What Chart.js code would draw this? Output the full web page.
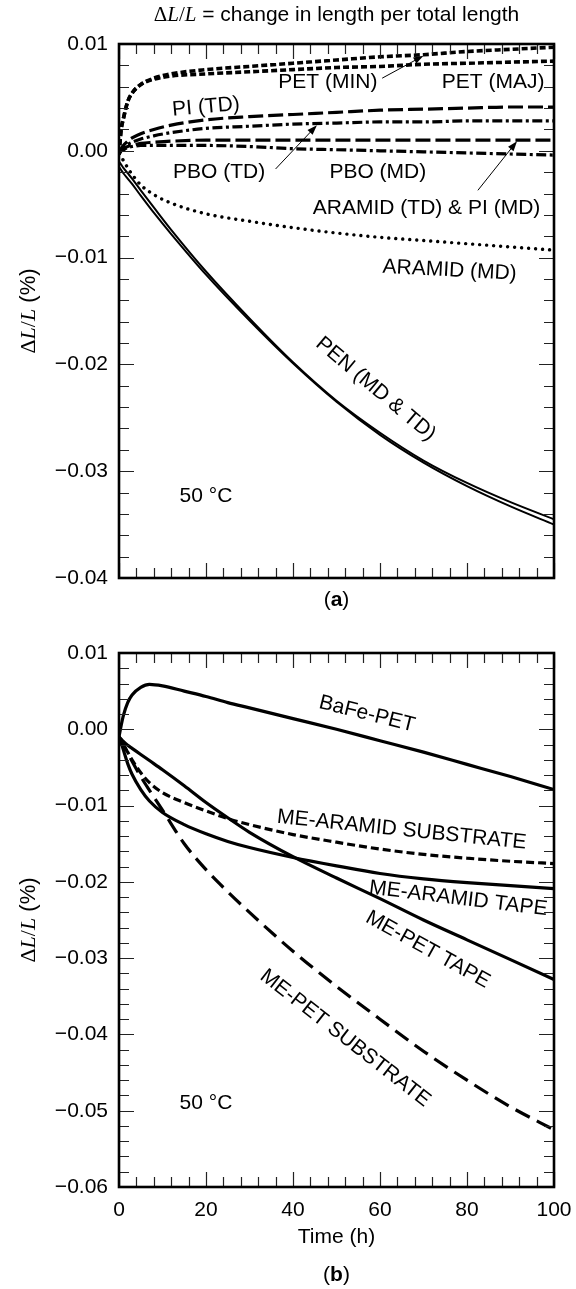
<!DOCTYPE html>
<html>
<head>
<meta charset="utf-8">
<script src="https://cdn.jsdelivr.net/npm/chart.js@4/dist/chart.umd.min.js"></script>
<style>
  html, body { margin: 0; padding: 0; background: #fff; }
  .panel { position: relative; width: 576px; }
</style>
</head>
<body>
<div class="panel" style="height:620px"><canvas id="chart-a"></canvas></div>
<div class="panel" style="height:669px"><canvas id="chart-b"></canvas></div>
<script>
// (a) base films, dL/L (%) vs time (h) at 50 °C
const timeA    = [0, 0.5, 1, 2, 3, 5, 8, 12, 20, 30, 40, 50, 60, 70, 80, 90, 100];
const petMin   = [-0.0003, 0.0020, 0.0030, 0.0046, 0.0054, 0.0062, 0.0068, 0.0072, 0.0076, 0.0079, 0.0082, 0.0085, 0.0088, 0.0090, 0.0093, 0.0095, 0.0097];
const petMaj   = [-0.0003, 0.0020, 0.0030, 0.0046, 0.0054, 0.0062, 0.0067, 0.0070, 0.0072, 0.0074, 0.0076, 0.0078, 0.0079, 0.0081, 0.0082, 0.0083, 0.0084];
const piTD     = [-0.0003, 0.0002, 0.0005, 0.0009, 0.0012, 0.0016, 0.0020, 0.0024, 0.0029, 0.0032, 0.0034, 0.0036, 0.0038, 0.0039, 0.0040, 0.0041, 0.0041];
const pboTD    = [-0.0003, 0.0001, 0.0003, 0.0006, 0.0008, 0.0011, 0.0014, 0.0017, 0.0021, 0.0023, 0.0025, 0.0026, 0.0027, 0.0027, 0.0028, 0.0028, 0.0028];
const aramidTD = [-0.0003, 0.0000, 0.0002, 0.0004, 0.0005, 0.0007, 0.0008, 0.0009, 0.0010, 0.0010, 0.0010, 0.0010, 0.0010, 0.0010, 0.0010, 0.0010, 0.0010];
const pboMD    = [-0.0003, 0.0000, 0.0001, 0.0003, 0.0004, 0.0005, 0.0005, 0.0005, 0.0005, 0.0004, 0.0002, 0.0001, 0.0000, -0.0001, -0.0002, -0.0003, -0.0004];
const aramidMD = [-0.0003, -0.0006, -0.0009, -0.0016, -0.0022, -0.0032, -0.0041, -0.0049, -0.0059, -0.0066, -0.0072, -0.0077, -0.0081, -0.0084, -0.0087, -0.0090, -0.0093];
const penMD    = [-0.0010, -0.0013, -0.0016, -0.0021, -0.0026, -0.0037, -0.0053, -0.0074, -0.0113, -0.0157, -0.0198, -0.0234, -0.0264, -0.0290, -0.0311, -0.0329, -0.0345];
const penTD    = [-0.0015, -0.0018, -0.0021, -0.0026, -0.0031, -0.0042, -0.0058, -0.0078, -0.0116, -0.0159, -0.0199, -0.0235, -0.0266, -0.0292, -0.0314, -0.0333, -0.0350];

// (b) ME / BaFe tapes and substrates
const timeB     = [0, 0.5, 1, 2, 3, 5, 7, 10, 15, 20, 25, 30, 40, 50, 60, 70, 80, 90, 100];
const bafePet   = [-0.0010, 0.0005, 0.0018, 0.0035, 0.0045, 0.0055, 0.0059, 0.0057, 0.0050, 0.0043, 0.0035, 0.0028, 0.0014, 0.0000, -0.0015, -0.0030, -0.0046, -0.0062, -0.0079];
const meAraSub  = [-0.0010, -0.0015, -0.0020, -0.0030, -0.0040, -0.0057, -0.0070, -0.0083, -0.0096, -0.0107, -0.0117, -0.0125, -0.0138, -0.0148, -0.0157, -0.0164, -0.0169, -0.0173, -0.0176];
const meAraTape = [-0.0010, -0.0018, -0.0027, -0.0045, -0.0059, -0.0079, -0.0094, -0.0109, -0.0125, -0.0137, -0.0147, -0.0155, -0.0168, -0.0179, -0.0189, -0.0196, -0.0201, -0.0205, -0.0209];
const mePetTape = [-0.0010, -0.0013, -0.0016, -0.0021, -0.0025, -0.0033, -0.0041, -0.0053, -0.0074, -0.0096, -0.0116, -0.0135, -0.0167, -0.0195, -0.0222, -0.0250, -0.0276, -0.0302, -0.0328];
const mePetSub  = [-0.0010, -0.0015, -0.0020, -0.0031, -0.0042, -0.0062, -0.0080, -0.0106, -0.0150, -0.0184, -0.0213, -0.0240, -0.0291, -0.0337, -0.0380, -0.0422, -0.0460, -0.0495, -0.0525];

const xTicks = [0, 20, 40, 60, 80, 100];

// curve labels: [text, t, value, rotation in degrees]
const notesA = [
    ['PET (MIN)', 48, 0.0064, 0],
    ['PET (MAJ)', 86, 0.0064, 0],
    ['PI (TD)', 20, 0.0041, -5],
    ['PBO (TD)', 23, -0.0020, 0],
    ['PBO (MD)', 59.5, -0.0020, 0],
    ['ARAMID (TD) & PI (MD)', 70.7, -0.0054, 0],
    ['ARAMID (MD)', 76, -0.0112, 3],
    ['PEN (MD & TD)', 59, -0.0223, 40],
    ['50 °C', 20, -0.0323, 0]
];
// leader arrows: [t0, v0, t1, v1], head at the second point
const arrowsA = [
    [60.5, 0.0068, 70, 0.0089],
    [36, -0.0017, 45.5, 0.0024],
    [82.5, -0.0037, 91.5, 0.0009]
];
const notesB = [
    ['BaFe-PET', 57, 0.0020, 14],
    ['ME-ARAMID SUBSTRATE', 65, -0.0132, 6],
    ['ME-ARAMID TAPE', 78, -0.0222, 7],
    ['ME-PET TAPE', 71, -0.0289, 29],
    ['ME-PET SUBSTRATE', 52, -0.0405, 38],
    ['50 °C', 20, -0.0490, 0]
];

const SANS = '"Liberation Sans", Arial, sans-serif';
const SERIF = '"Liberation Serif", "Times New Roman", serif';
const FS = 21;

Chart.defaults.font.family = SANS;
Chart.defaults.color = '#000';

function pts(ts, vs) {
    return ts.map((t, i) => ({ x: t, y: vs[i] }));
}

function curve(label, ts, vs, style) {
    return Object.assign({
        label: label,
        data: pts(ts, vs),
        borderColor: '#000',
        borderWidth: 3,
        pointRadius: 0,
        fill: false,
        cubicInterpolationMode: 'monotone',
        borderCapStyle: 'butt'
    }, style);
}

const heavyShort = { borderWidth: 3.6, borderDash: [6, 3] };
const longDash   = { borderWidth: 3.2, borderDash: [15, 5] };
const dashDot    = { borderWidth: 3.2, borderDash: [10, 3.5, 3, 3.5] };
const dots       = { borderWidth: 3.4, borderDash: [0.01, 7], borderCapStyle: 'round' };
const thinSolid  = { borderWidth: 2 };
const solid      = { borderWidth: 3.2 };
const shortDash  = { borderWidth: 3.2, borderDash: [8, 4] };
const wideDash   = { borderWidth: 3.2, borderDash: [16, 8] };

function fmtY(v) {
    if (Math.abs(v) < 1e-9) return '0.00';
    return (v < 0 ? '\u2212' : '') + Math.abs(v).toFixed(2);
}

function scalesFor(yMin, yMax, showX, xHeight) {
    return {
        x: {
            type: 'linear', min: 0, max: 100,
            grid: { display: false, drawTicks: false },
            border: { display: false },
            afterBuildTicks: s => { s.ticks = xTicks.map(v => ({ value: v })); },
            ticks: { display: showX, font: { size: FS }, padding: 11, maxRotation: 0 },
            afterFit: s => { s.height = xHeight; s.paddingLeft = 0; s.paddingRight = 0; }
        },
        y: {
            type: 'linear', min: yMin, max: yMax,
            grid: { display: false, drawTicks: false },
            border: { display: false },
            ticks: { stepSize: 0.01, font: { size: FS }, padding: 11, callback: fmtY },
            afterFit: s => { s.width = 119; }
        }
    };
}

// text made of runs in different fonts, centred on (x, y)
function richText(ctx, parts, x, y) {
    let w = 0;
    parts.forEach(p => { ctx.font = p[1]; w += ctx.measureText(p[0]).width; });
    let cx = x - w / 2;
    ctx.textAlign = 'left';
    ctx.textBaseline = 'middle';
    parts.forEach(p => {
        ctx.font = p[1];
        ctx.fillText(p[0], cx, y);
        cx += ctx.measureText(p[0]).width;
    });
}

function dLL(size) {
    return [
        ['\u0394', size + 'px ' + SERIF],
        ['L', 'italic ' + size + 'px ' + SERIF],
        ['/', size + 'px ' + SERIF],
        ['L', 'italic ' + size + 'px ' + SERIF]
    ];
}

// frame with inward ticks on all four sides
const framePlugin = {
    id: 'frame',
    afterDatasetsDraw(chart) {
        const { ctx, chartArea: ca, scales: { x, y } } = chart;
        ctx.save();
        ctx.strokeStyle = '#222';
        ctx.lineWidth = 1.2;
        ctx.beginPath();
        for (let i = 0; i <= 25; i++) {
            const px = Math.round(x.getPixelForValue(i * 4)) + 0.5;
            const len = i % 5 === 0 ? 15 : 10;
            ctx.moveTo(px, ca.bottom); ctx.lineTo(px, ca.bottom - len);
            ctx.moveTo(px, ca.top); ctx.lineTo(px, ca.top + len);
        }
        const n = Math.round((y.max - y.min) / 0.002);
        for (let i = 0; i <= n; i++) {
            const py = Math.round(y.getPixelForValue(y.min + i * 0.002)) + 0.5;
            const len = i % 5 === 0 ? 15 : 10;
            ctx.moveTo(ca.left, py); ctx.lineTo(ca.left + len, py);
            ctx.moveTo(ca.right, py); ctx.lineTo(ca.right - len, py);
        }
        ctx.stroke();
        ctx.strokeStyle = '#000';
        ctx.lineWidth = 2.6;
        ctx.strokeRect(ca.left, ca.top, ca.right - ca.left, ca.bottom - ca.top);
        ctx.restore();
    }
};

function textPlugin(notes, arrows, panel, bottomY, withTitle, withXTitle) {
    return {
        id: 'notes',
        afterDraw(chart) {
            const { ctx, chartArea: ca, scales: { x, y } } = chart;
            ctx.save();
            ctx.fillStyle = '#000';
            ctx.strokeStyle = '#000';

            notes.forEach(([txt, t, v, rot]) => {
                ctx.save();
                ctx.translate(x.getPixelForValue(t), y.getPixelForValue(v));
                ctx.rotate(rot * Math.PI / 180);
                ctx.font = FS + 'px ' + SANS;
                ctx.textAlign = 'center';
                ctx.textBaseline = 'middle';
                ctx.fillText(txt, 0, 0);
                ctx.restore();
            });

            arrows.forEach(([t0, v0, t1, v1]) => {
                const x0 = x.getPixelForValue(t0), y0 = y.getPixelForValue(v0);
                const x1 = x.getPixelForValue(t1), y1 = y.getPixelForValue(v1);
                const a = Math.atan2(y1 - y0, x1 - x0);
                ctx.lineWidth = 1;
                ctx.beginPath();
                ctx.moveTo(x0, y0);
                ctx.lineTo(x1 - 6 * Math.cos(a), y1 - 6 * Math.sin(a));
                ctx.stroke();
                ctx.beginPath();
                ctx.moveTo(x1, y1);
                ctx.lineTo(x1 - 10 * Math.cos(a) + 3.5 * Math.sin(a), y1 - 10 * Math.sin(a) - 3.5 * Math.cos(a));
                ctx.lineTo(x1 - 10 * Math.cos(a) - 3.5 * Math.sin(a), y1 - 10 * Math.sin(a) + 3.5 * Math.cos(a));
                ctx.closePath();
                ctx.fill();
            });

            const midX = (ca.left + ca.right) / 2;
            const midY = (ca.top + ca.bottom) / 2;

            if (withTitle) {
                richText(ctx, dLL(21).concat([[' = change in length per total length', '21px ' + SANS]]), midX, 15);
            }

            // y-axis title, rotated
            ctx.save();
            ctx.translate(29, midY);
            ctx.rotate(-Math.PI / 2);
            richText(ctx, dLL(22).concat([[' (%)', '22px ' + SANS]]), 0, 0);
            ctx.restore();

            if (withXTitle) {
                richText(ctx, [['Time (h)', FS + 'px ' + SANS]], midX, ca.bottom + 50);
            }

            richText(ctx, [['(', FS + 'px ' + SANS], [panel, 'bold ' + FS + 'px ' + SANS], [')', FS + 'px ' + SANS]], midX, bottomY);
            ctx.restore();
        }
    };
}

const commonOpts = {
    responsive: true,
    maintainAspectRatio: false,
    animation: false,
    devicePixelRatio: 1,
    events: [],
    plugins: { legend: { display: false }, tooltip: { enabled: false } }
};

new Chart(document.getElementById('chart-a'), {
    type: 'line',
    data: {
        datasets: [
            curve('PET (MIN)', timeA, petMin, heavyShort),
            curve('PET (MAJ)', timeA, petMaj, heavyShort),
            curve('PI (TD)', timeA, piTD, longDash),
            curve('PBO (TD)', timeA, pboTD, dashDot),
            curve('ARAMID (TD) & PI (MD)', timeA, aramidTD, longDash),
            curve('PBO (MD)', timeA, pboMD, dashDot),
            curve('ARAMID (MD)', timeA, aramidMD, dots),
            curve('PEN (MD)', timeA, penMD, thinSolid),
            curve('PEN (TD)', timeA, penTD, thinSolid)
        ]
    },
    options: Object.assign({}, commonOpts, {
        layout: { padding: { top: 44, right: 22, bottom: 0, left: 0 } },
        scales: scalesFor(-0.04, 0.01, false, 42)
    }),
    plugins: [framePlugin, textPlugin(notesA, arrowsA, 'a', 600, true, false)]
});

new Chart(document.getElementById('chart-b'), {
    type: 'line',
    data: {
        datasets: [
            curve('BaFe-PET', timeB, bafePet, solid),
            curve('ME-ARAMID SUBSTRATE', timeB, meAraSub, shortDash),
            curve('ME-ARAMID TAPE', timeB, meAraTape, solid),
            curve('ME-PET TAPE', timeB, mePetTape, solid),
            curve('ME-PET SUBSTRATE', timeB, mePetSub, wideDash)
        ]
    },
    options: Object.assign({}, commonOpts, {
        layout: { padding: { top: 33, right: 22, bottom: 0, left: 0 } },
        scales: scalesFor(-0.06, 0.01, true, 102)
    }),
    plugins: [framePlugin, textPlugin(notesB, [], 'b', 655, false, true)]
});
</script>
</body>
</html>
